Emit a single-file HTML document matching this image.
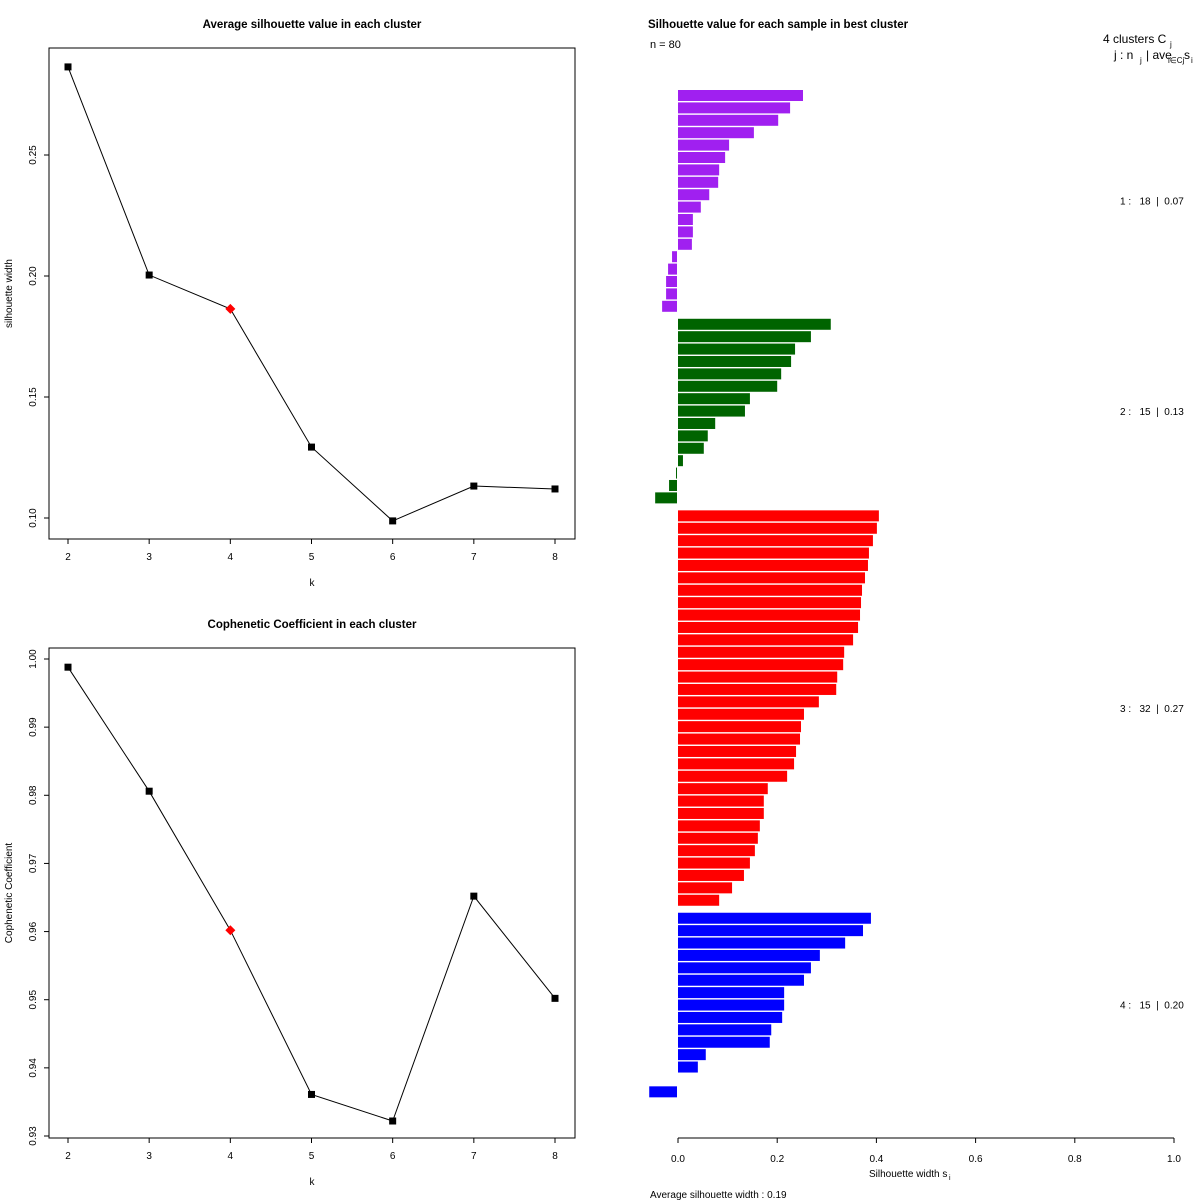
<!DOCTYPE html>
<html><head><meta charset="utf-8">
<style>
body{margin:0;background:#fff}
svg{display:block;font-family:"Liberation Sans",sans-serif}
</style></head><body>
<svg id="c" width="1200" height="1200" viewBox="0 0 1200 1200" xmlns="http://www.w3.org/2000/svg"></svg>
<script>
const kValues=[2,3,4,5,6,7,8];
const silAvg=[0.2864,0.2004,0.1864,0.1293,0.0988,0.1132,0.1120];
const cophCoef=[0.9988,0.9806,0.9602,0.9361,0.9322,0.9652,0.9502];
const bestK=4;
const silTicks=[0.10,0.15,0.20,0.25];
const cophTicks=[0.93,0.94,0.95,0.96,0.97,0.98,0.99,1.00];
const clusterNames=["1","2","3","4"];
const clusterColors=["#a020f0","#006400","#ff0000","#0000ff"];
const clusterAvg=["0.07","0.13","0.27","0.20"];
const sil1=[0.252,0.226,0.202,0.153,0.103,0.095,0.083,0.081,0.063,0.046,0.030,0.030,0.028,-0.010,-0.018,-0.022,-0.022,-0.030];
const sil2=[0.308,0.268,0.236,0.228,0.208,0.200,0.145,0.135,0.075,0.060,0.052,0.010,-0.002,-0.016,-0.044];
const sil3=[0.405,0.401,0.393,0.385,0.383,0.377,0.371,0.369,0.367,0.363,0.353,0.335,0.333,0.321,0.319,0.284,0.254,0.248,0.246,0.238,0.234,0.220,0.181,0.173,0.173,0.165,0.161,0.155,0.145,0.133,0.109,0.083];
const sil4=[0.389,0.373,0.337,0.286,0.268,0.254,0.214,0.214,0.210,0.188,0.185,0.056,0.040,0.000,-0.056];
const silX=[0,0.2,0.4,0.6,0.8,1.0];
const overallAvg="0.19";

const svg=document.getElementById('c');
const NS="http://www.w3.org/2000/svg";
function mk(tag,attrs,parent,text){const e=document.createElementNS(NS,tag);for(const k in attrs)e.setAttribute(k,attrs[k]);if(text!==undefined)e.textContent=text;(parent||svg).appendChild(e);return e;}

function linePanel(name,box,vals,ticks,yMin,yMax,title,ylab){
  const g=mk('g',{},svg);
  
  
  const xs=k=>68+(k-2)*(555-68)/6;
  const ys=v=>box.y1-(v-yMin)/(yMax-yMin)*(box.y1-box.y0);
  const r=mk('rect',{x:box.x0,y:box.top,width:box.x1-box.x0,height:box.bottom-box.top,fill:'none',stroke:'#000','stroke-width':1},g);
  
  const bottom=box.bottom;
  kValues.forEach(k=>{
    mk('line',{x1:xs(k),x2:xs(k),y1:bottom,y2:bottom+5,stroke:'#000'},g);
    const t=mk('text',{x:xs(k),y:bottom+21,'font-size':10,'text-anchor':'middle'},g,k);
    
  });
  ticks.forEach(v=>{
    mk('line',{x1:box.x0,x2:box.x0-5,y1:ys(v),y2:ys(v),stroke:'#000'},g);
    const t=mk('text',{x:0,y:0,'font-size':10,'text-anchor':'middle',transform:`translate(${box.x0-13},${ys(v)}) rotate(-90)`},g,v.toFixed(2));
    
  });
  const pts=vals.map((v,i)=>xs(kValues[i])+','+ys(v)).join(' ');
  const pl=mk('polyline',{points:pts,fill:'none',stroke:'#000','stroke-width':1},g);
  
  vals.forEach((v,i)=>{
    const x=xs(kValues[i]),y=ys(v);
    let p;
    if(kValues[i]===bestK){p=mk('polygon',{points:`${x},${y-5} ${x+5},${y} ${x},${y+5} ${x-5},${y}`,fill:'#ff0000'},g);}
    else{p=mk('rect',{x:x-3.5,y:y-3.5,width:7,height:7,fill:'#000'},g);}
    
  });
  const tt=mk('text',{x:312,y:box.top-20,'font-size':11.5,'font-weight':'bold','text-anchor':'middle'},g,title);
  
  const xl=mk('text',{x:312,y:bottom+47,'font-size':10,'text-anchor':'middle'},g,'k');
  
  const yl=mk('text',{x:0,y:0,'font-size':10,'text-anchor':'middle',transform:`translate(12,${(box.top+bottom)/2}) rotate(-90)`},g,ylab);
  
}
linePanel('avg-silhouette-panel',{x0:49,x1:575,top:48,bottom:539,y0:155,y1:518},silAvg,silTicks,0.10,0.25,'Average silhouette value in each cluster','silhouette width');
linePanel('cophenetic-panel',{x0:49,x1:575,top:648,bottom:1138,y0:659,y1:1136},cophCoef,cophTicks,0.93,1.00,'Cophenetic Coefficient in each cluster','Cophenetic Coefficient');

// silhouette bar plot
const sg=mk('g',{},svg);


const sx=v=>678+v*496;
const pitch=12.4, top0=90;
const clusters=[sil1,sil2,sil3,sil4];
let idx=0;
clusters.forEach((arr,ci)=>{
  const yStart=top0+(idx+ci*0.45)*pitch;
  arr.forEach((v,j)=>{
    const y=top0+(idx+ci*0.45)*pitch;
    const x0=Math.min(sx(0),sx(v)),w=Math.abs(sx(v)-sx(0));
    const b=mk('rect',{x:v<0?x0-1:x0,y:y,width:w,height:pitch-1.4,fill:clusterColors[ci]},sg);
    
    
    idx++;
  });
  const yEnd=top0+(idx+ci*0.45)*pitch;
  const lbl=mk('text',{x:1120,y:(yStart+yEnd)/2+3,'font-size':10,'xml:space':'preserve'},sg,`${clusterNames[ci]} :   ${arr.length}  |  ${clusterAvg[ci]}`);
  lbl.setAttribute('style','white-space:pre');
  
  
});
mk('line',{x1:sx(0),x2:sx(1),y1:1138,y2:1138,stroke:'#000'},sg);
silX.forEach(v=>{
  mk('line',{x1:sx(v),x2:sx(v),y1:1138,y2:1143,stroke:'#000'},sg);
  const t=mk('text',{x:sx(v),y:1162,'font-size':10,'text-anchor':'middle'},sg,v.toFixed(1));
  
});
const st=mk('text',{x:648,y:28,'font-size':11.5,'font-weight':'bold'},sg,'Silhouette value for each sample in best cluster');

const n=mk('text',{x:650,y:48,'font-size':11},sg,'n = 80');

const h1=mk('text',{x:1103,y:43,'font-size':12},sg,'4  clusters  C');

mk('text',{x:1170,y:47,'font-size':8},sg,'j');
const h2=mk('text',{x:1114,y:59,'font-size':12},sg,'j :  n');

mk('text',{x:1140,y:63,'font-size':8},sg,'j');
mk('text',{x:1146,y:59,'font-size':12},sg,'| ave');
mk('text',{x:1168,y:63,'font-size':8},sg,'i∈Cj');
mk('text',{x:1184,y:59,'font-size':12},sg,'s');
mk('text',{x:1191,y:63,'font-size':8},sg,'i');
const xt=mk('text',{x:869,y:1177,'font-size':10},sg,'Silhouette width s');

mk('text',{x:949,y:1180,'font-size':7},sg,'i');
const av=mk('text',{x:650,y:1198,'font-size':10},sg,'Average silhouette width :  '+overallAvg);

</script>
</body></html>
